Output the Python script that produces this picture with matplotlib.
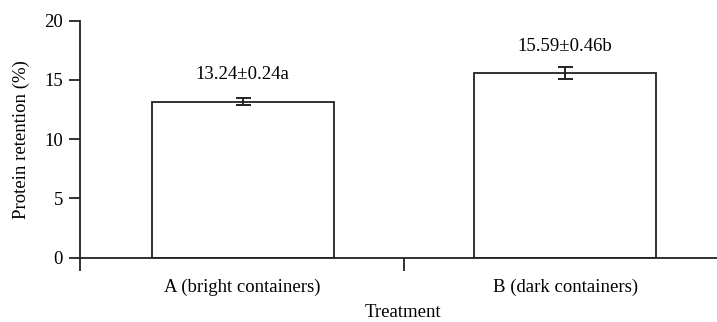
import matplotlib.pyplot as plt

plt.rcParams['font.family'] = ['Liberation Serif', 'DejaVu Serif']

treatments = ['A (bright containers)', 'B (dark containers)']
retention = [13.15, 15.55]
errors = [0.3, 0.5]
labels = ['13.24\u00b10.24a', '15.59\u00b10.46b']

fig = plt.figure(figsize=(7.17, 3.22), dpi=100)
ax = fig.add_axes([0.111, 0.2, 0.902, 0.7357])

x = list(range(len(treatments)))
ax.bar(x, retention, width=0.565, color='white', edgecolor='#222222', linewidth=1.3,
       yerr=errors, capsize=5.4, error_kw=dict(ecolor='#222222', elinewidth=1.4, capthick=1.4))

for xi, v, lab in zip(x, retention, labels):
    ax.text(xi, v + 2.3, lab, ha='center', va='center', fontsize=13.5)

ax.set_xlim(-0.506, 1.5)
ax.set_ylim(0, 20)
ax.set_yticks([0, 5, 10, 15, 20])
ax.set_xticks([-0.506, 0.5, 1.5])
ax.set_xticklabels([])
ax.set_xticks(x, minor=True)
ax.set_xticklabels(treatments, minor=True, fontsize=13.5)
ax.tick_params(axis='x', which='minor', length=0, pad=15)
ax.tick_params(axis='x', which='major', length=9, width=1.3, direction='out', color='#222222')
ax.tick_params(axis='y', length=8, width=1.3, color='#222222', labelsize=13.5, pad=4)

for s in ['top', 'right']:
    ax.spines[s].set_visible(False)
for s in ['left', 'bottom']:
    ax.spines[s].set_linewidth(1.3)
    ax.spines[s].set_color('#222222')

ax.set_ylabel('Protein retention (%)', fontsize=13.5, labelpad=10)
ax.set_xlabel('Treatment', fontsize=13.5, labelpad=6)

fig.savefig('out.png', dpi=100)
